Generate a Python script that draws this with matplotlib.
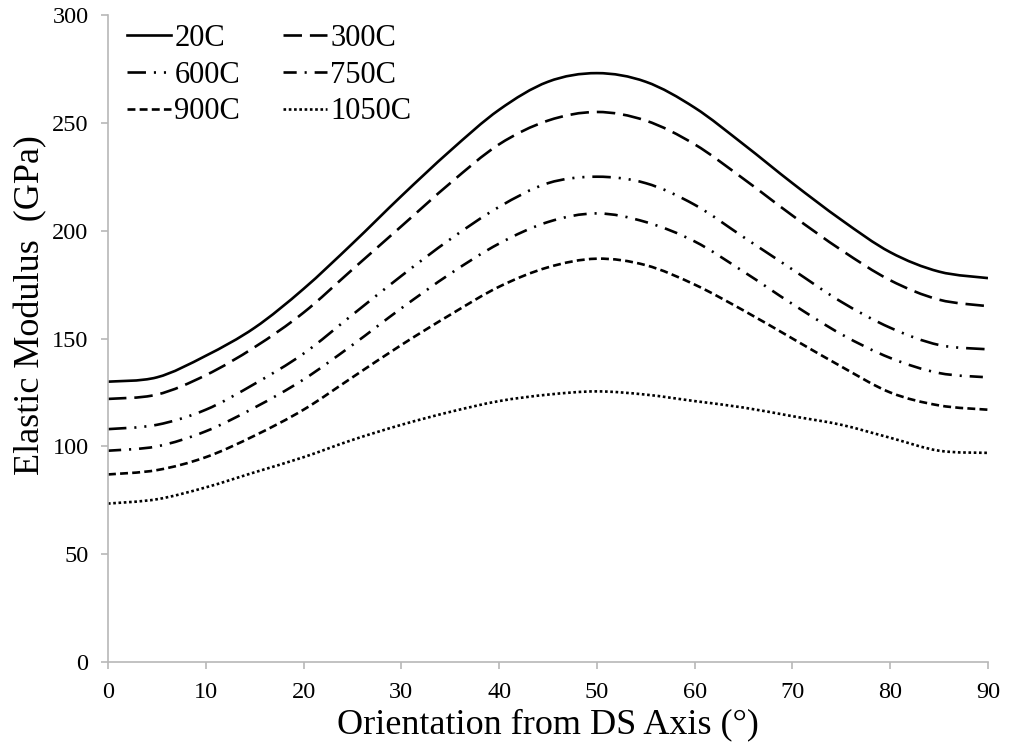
import matplotlib
matplotlib.use("Agg")
import matplotlib.pyplot as plt
import numpy as np
from matplotlib.path import Path
from matplotlib.patches import PathPatch
from matplotlib.lines import Line2D

angles = [0, 5, 10, 15, 20, 25, 30, 35, 40, 45, 50, 55, 60, 65, 70, 75, 80, 85, 90]
e_20C = [130, 132, 142, 155, 173, 194, 216, 237, 256, 269, 273, 269, 257, 240, 222, 205, 190, 181, 178]
e_300C = [122, 124, 133, 146, 162, 182, 202, 222, 240, 251, 255, 251, 240, 224, 207, 191, 177, 168, 165]
e_600C = [108, 110, 117, 129, 143, 161, 179, 196, 211, 222, 225, 222, 212, 197, 182, 167, 155, 147, 145]
e_750C = [98, 100, 107, 118, 131, 147, 164, 180, 194, 204, 208, 204, 195, 181, 166, 152, 141, 134, 132]
e_900C = [87, 89, 95, 105, 117, 132, 147, 161, 174, 183, 187, 184, 175, 163, 150, 137, 125, 119, 117]
e_1050C = [73.5, 75.5, 81, 88, 95, 103, 110, 116, 121, 124, 125.5, 124, 121, 118, 114, 110, 104, 98, 97]
labels = ["20C", "300C", "600C", "750C", "900C", "1050C"]
xticks = [0, 10, 20, 30, 40, 50, 60, 70, 80, 90]
yticks = [0, 50, 100, 150, 200, 250, 300]

plt.rcParams['font.family'] = ['Liberation Serif', 'DejaVu Serif']


def smooth_path(xs, ys):
    """Spreadsheet-style smoothed line: cubic Bezier segments through the data points."""
    p = np.column_stack([xs, ys]).astype(float)
    ext = np.vstack([p[0], p, p[-1]])
    verts = [p[0]]
    codes = [Path.MOVETO]
    for i in range(len(p) - 1):
        p0, p1, p2, p3 = ext[i], ext[i + 1], ext[i + 2], ext[i + 3]
        c1 = p1 + (p2 - p0) / 6.0
        c2 = p2 - (p3 - p1) / 6.0
        verts += [c1, c2, p2]
        codes += [Path.CURVE4] * 3
    return Path(verts, codes)


fig = plt.figure(figsize=(10.1, 7.44), dpi=100)
ax = fig.add_axes([0.1069, 0.110, 0.8713, 0.870])

lw = 1.9
styles = [
    '-',
    (0, (7, 3)),
    (0, (7, 3, 0.8, 3, 0.8, 3)),
    (0, (5, 3, 0.8, 3)),
    (0, (3, 1.6)),
    (0, (1, 1)),
]
series = [e_20C, e_300C, e_600C, e_750C, e_900C, e_1050C]
handles = []
for s, lab, st in zip(series, labels, styles):
    patch = PathPatch(smooth_path(angles, s), facecolor='none', edgecolor='black',
                      lw=lw, linestyle=st, transform=ax.transData)
    ax.add_patch(patch)
    handles.append(Line2D([], [], color='black', lw=lw, linestyle=st))

ax.set_xlim(0, 90)
ax.set_ylim(0, 300)
ax.set_xticks(xticks)
ax.set_yticks(yticks)
for sp in ['top', 'right']:
    ax.spines[sp].set_visible(False)
for sp in ['left', 'bottom']:
    ax.spines[sp].set_color('#b8b8b8')
    ax.spines[sp].set_linewidth(1.2)
ax.tick_params(axis='both', colors='#b8b8b8', labelcolor='black', labelsize=17.5,
               length=5, width=1.2, direction='out')
ax.tick_params(axis='x', pad=9)
ax.tick_params(axis='y', pad=9)

ax.set_xlabel("Orientation from DS Axis (°)", fontsize=26, labelpad=4)
ax.set_ylabel("Elastic Modulus  (GPa)", fontsize=26)
ax.yaxis.set_label_coords(-0.069, 0.552)

order = [0, 2, 4, 1, 3, 5]
ax.legend([handles[i] for i in order], [labels[i] for i in order], ncol=2,
          loc='upper left', bbox_to_anchor=(127 / 1010, 1 - 24 / 744),
          bbox_transform=fig.transFigure, borderaxespad=0, borderpad=0,
          frameon=False, fontsize=22, handlelength=1.45, handletextpad=0.1,
          columnspacing=1.4, labelspacing=0.25)

fig.savefig("out.png", dpi=100)
